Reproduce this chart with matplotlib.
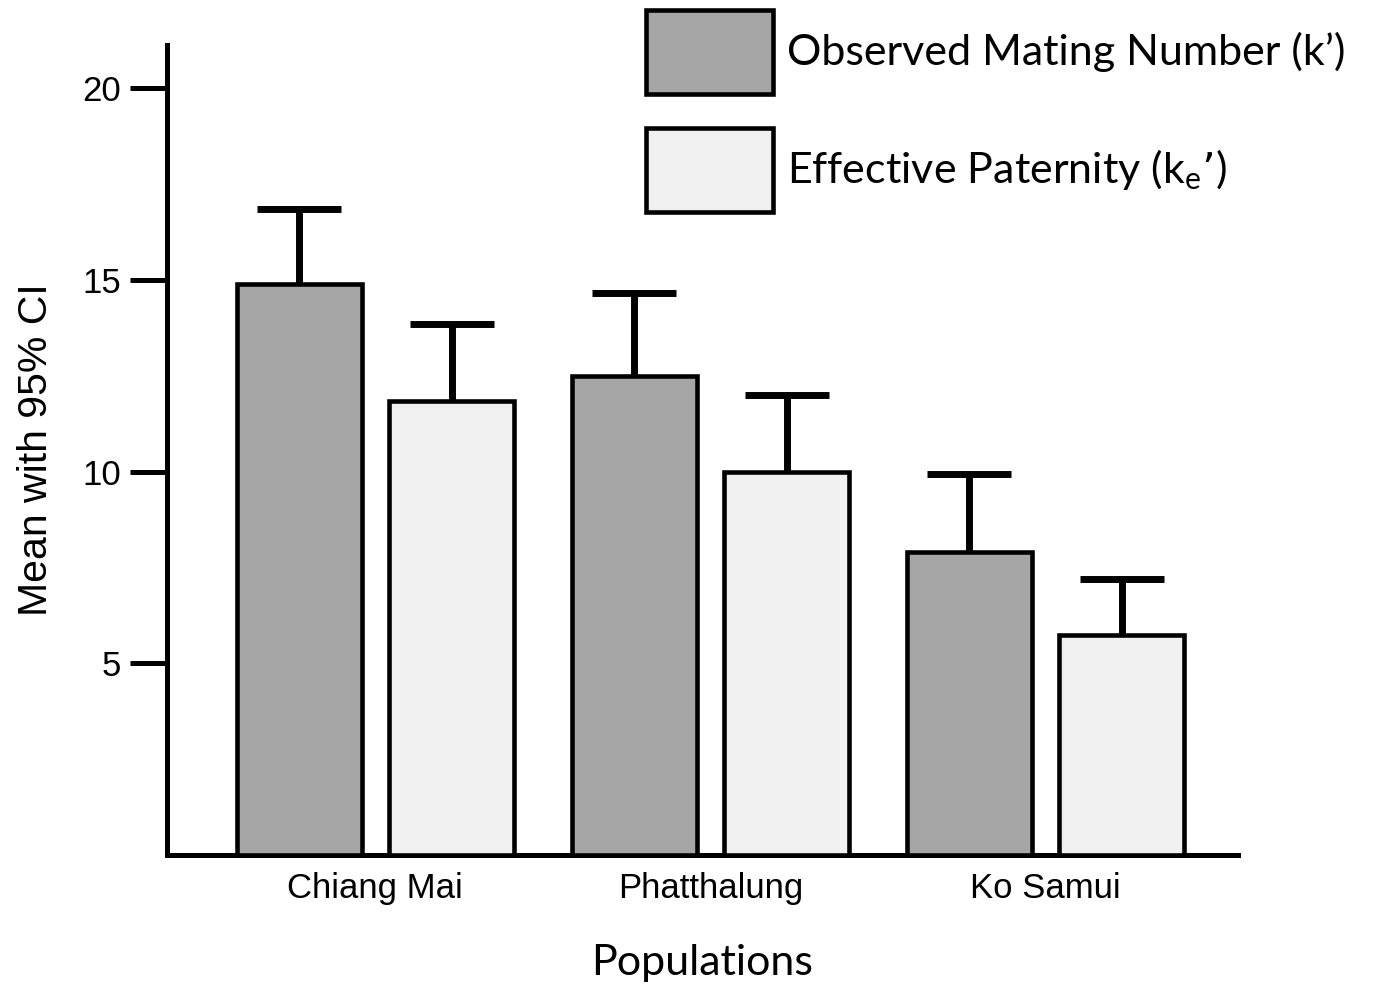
import matplotlib
matplotlib.use("Agg")
import matplotlib.pyplot as plt
import numpy as np

populations = ["Chiang Mai", "Phatthalung", "Ko Samui"]
observed = [14.9, 12.5, 7.9]
observed_ci_upper = [16.85, 14.65, 9.95]
effective = [11.85, 10.0, 5.75]
effective_ci_upper = [13.85, 12.0, 7.2]
yticks = [5, 10, 15, 20]
series_labels = ["Observed Mating Number (k\u2019)", "Effective Paternity (k$_\\mathregular{e}$\u2019)"]

dark = "#a6a6a6"
light = "#f0f0f0"

fig = plt.figure(figsize=(13.73, 9.84), dpi=100)
ax = fig.add_axes([167/1373, 1-855/984, (1238-167)/1373, (855-45)/984])

x = np.arange(len(populations))
w = 0.373
off = 0.2275
err_kw = dict(elinewidth=5, capsize=30, capthick=5, ecolor="black")
obs_err = [np.zeros(3), np.array(observed_ci_upper) - np.array(observed)]
eff_err = [np.zeros(3), np.array(effective_ci_upper) - np.array(effective)]
b1 = ax.bar(x - off, observed, w, color=dark, edgecolor="black", linewidth=3.3,
            yerr=obs_err, error_kw=err_kw, label=series_labels[0], zorder=3)
b2 = ax.bar(x + off, effective, w, color=light, edgecolor="black", linewidth=3.3,
            yerr=eff_err, error_kw=err_kw, label=series_labels[1], zorder=3)
# hide the lower caps (only upper CI shown)
for bc in (b1, b2):
    caps = bc.errorbar.lines[1]
    if len(caps) >= 2:
        caps[0].set_visible(False)

ax.set_xlim(-0.622, 2.575)
ax.set_ylim(0, 21.13)
ax.set_yticks(yticks)
ax.set_yticklabels([str(t) for t in yticks], fontsize=25, family="Liberation Sans")
ax.set_xticks(x)
ax.set_xticklabels(populations, fontsize=25, family="Liberation Sans")
ax.tick_params(axis="y", length=27, width=3.6, pad=6, direction="out")
ax.tick_params(axis="x", length=0, pad=12)

for s in ["top", "right"]:
    ax.spines[s].set_visible(False)
for s in ["left", "bottom"]:
    ax.spines[s].set_linewidth(3.6)

ax.set_ylabel("Mean with 95% CI", fontsize=29.5, family="Liberation Sans", labelpad=20)
ax.set_xlabel("Populations", fontsize=31, family="Lato", labelpad=28)

fs = 31
leg = fig.legend(handles=[b1, b2], labels=series_labels, loc="upper left",
                 bbox_to_anchor=(646/1373, 1-10/984), bbox_transform=fig.transFigure,
                 frameon=False, prop={"family": "Lato", "size": fs},
                 handlelength=2.95, handleheight=2.626, handletextpad=0.33,
                 labelspacing=0.79, borderpad=0, borderaxespad=0)

fig.savefig("out.png", dpi=100)
